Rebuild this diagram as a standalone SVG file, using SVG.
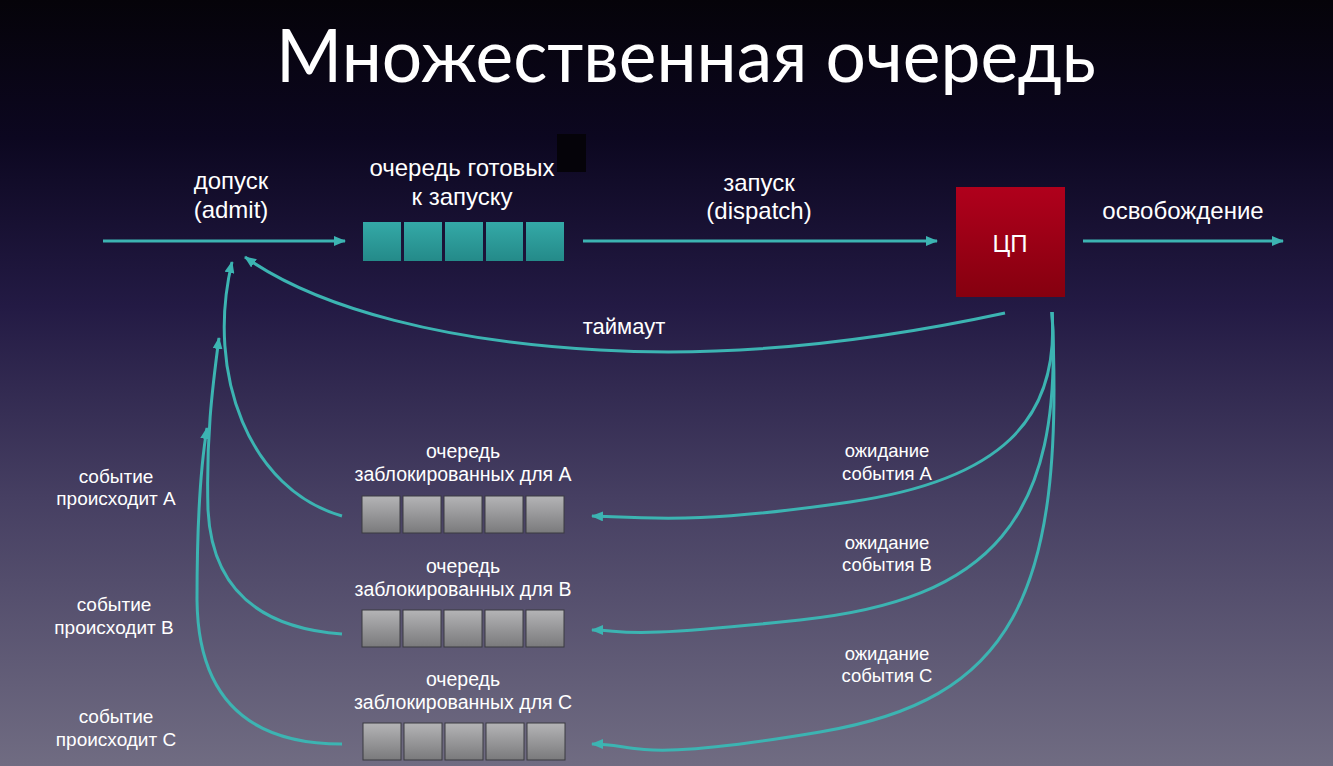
<svg xmlns="http://www.w3.org/2000/svg" width="1333" height="766" viewBox="0 0 1333 766">
<defs>
<linearGradient id="bg" x1="0" y1="0" x2="0" y2="1">
<stop offset="0" stop-color="#050309"/>
<stop offset="0.18" stop-color="#0c0720"/>
<stop offset="0.4" stop-color="#231a44"/>
<stop offset="0.65" stop-color="#463f62"/>
<stop offset="1" stop-color="#706c82"/>
</linearGradient>
<linearGradient id="teal" x1="0" y1="0" x2="0" y2="1">
<stop offset="0" stop-color="#34a9a7"/>
<stop offset="1" stop-color="#248a89"/>
</linearGradient>
<linearGradient id="gray" x1="0" y1="0" x2="0" y2="1">
<stop offset="0" stop-color="#b4b4b6"/>
<stop offset="1" stop-color="#7a7a7c"/>
</linearGradient>
<linearGradient id="red" x1="0" y1="0" x2="0" y2="1">
<stop offset="0" stop-color="#b0001c"/>
<stop offset="1" stop-color="#85000f"/>
</linearGradient>
<marker id="ah" viewBox="0 0 12 10" refX="11" refY="5" markerWidth="12" markerHeight="10" markerUnits="userSpaceOnUse" orient="auto">
<path d="M0,0 L12,5 L0,10 Z" fill="#3cb4b2"/>
</marker>
<style>
.t{font-family:"Liberation Sans",Arial,sans-serif;fill:#ffffff;text-anchor:middle}
.l{font-size:24px}
.s{font-size:19.5px}
.w{font-size:18.5px}
.e{font-size:19px}
.c{fill:none;stroke:#3cb4b2;stroke-width:3;marker-end:url(#ah)}
.q{fill:url(#teal)}
.g{fill:url(#gray);stroke:#3a3a40;stroke-width:1}
</style>
</defs>
<rect width="1333" height="766" fill="url(#bg)"/>
<rect x="557" y="134" width="29" height="38" fill="#050309"/>
<text class="t" x="686" y="82" style="font-family:Lato,'Noto Sans',sans-serif;font-size:74px" textLength="820" lengthAdjust="spacingAndGlyphs">Множественная очередь</text>

<g id="connectors">
<path class="c" d="M103 241 L345 241"/>
<path class="c" d="M583 241 L937 241"/>
<path class="c" d="M1083 241 L1283 241"/>
<path class="c" d="M1005 313 C880 340 740 358 600 350 C450 342 320 310 245 257"/>
<path class="c" d="M1052 312 C1060 420 1000 480 850 502 S650 518 592 516"/>
<path class="c" d="M1052 312 C1064 520 990 600 800 620 S630 630 592 630"/>
<path class="c" d="M1052 312 C1066 600 1010 700 820 732 S640 744 592 744"/>
<path class="c" d="M342 516 C250 490 205 375 232 262"/>
<path class="c" d="M342 634 C260 628 212 590 208 510 C206 440 212 390 219 338"/>
<path class="c" d="M342 744 C250 744 198 700 197 600 C197 520 200 470 207 428"/>
</g>

<g id="admit">
<text class="t l" x="231" y="189">допуск</text>
<text class="t l" x="231" y="218">(admit)</text>
</g>

<g id="ready-queue">
<text class="t l" x="462" y="176">очередь готовых</text>
<text class="t l" x="462" y="205">к запуску</text>
<rect class="q" x="363" y="222" width="38" height="39"/>
<rect class="q" x="404" y="222" width="38" height="39"/>
<rect class="q" x="445" y="222" width="38" height="39"/>
<rect class="q" x="486" y="222" width="37" height="39"/>
<rect class="q" x="526" y="222" width="38" height="39"/>
</g>

<g id="dispatch">
<text class="t l" x="759" y="191">запуск</text>
<text class="t l" x="759" y="219">(dispatch)</text>
</g>

<g id="cpu">
<rect x="956" y="187" width="109" height="110" fill="url(#red)"/>
<text class="t" x="1010" y="252" style="font-size:24px">ЦП</text>
</g>

<g id="release">
<text class="t l" x="1183" y="219">освобождение</text>
</g>

<g id="timeout">
<text class="t" x="624" y="334" style="font-size:22px">таймаут</text>
</g>

<g id="blocked-a">
<text class="t s" x="463" y="458">очередь</text>
<text class="t s" x="463" y="481">заблокированных для A</text>
<rect class="g" x="362" y="496" width="38" height="37"/>
<rect class="g" x="403" y="496" width="38" height="37"/>
<rect class="g" x="444" y="496" width="38" height="37"/>
<rect class="g" x="485" y="496" width="38" height="37"/>
<rect class="g" x="526" y="496" width="38" height="37"/>
</g>

<g id="blocked-b">
<text class="t s" x="463" y="573">очередь</text>
<text class="t s" x="463" y="596">заблокированных для B</text>
<rect class="g" x="362" y="610" width="38" height="37"/>
<rect class="g" x="403" y="610" width="38" height="37"/>
<rect class="g" x="444" y="610" width="38" height="37"/>
<rect class="g" x="485" y="610" width="38" height="37"/>
<rect class="g" x="526" y="610" width="38" height="37"/>
</g>

<g id="blocked-c">
<text class="t s" x="463" y="686">очередь</text>
<text class="t s" x="463" y="709">заблокированных для C</text>
<rect class="g" x="363" y="723" width="38" height="37"/>
<rect class="g" x="404" y="723" width="38" height="37"/>
<rect class="g" x="445" y="723" width="38" height="37"/>
<rect class="g" x="486" y="723" width="38" height="37"/>
<rect class="g" x="527" y="723" width="38" height="37"/>
</g>

<g id="wait-a">
<text class="t w" x="887" y="457">ожидание</text>
<text class="t w" x="887" y="480">события A</text>
</g>
<g id="wait-b">
<text class="t w" x="887" y="549">ожидание</text>
<text class="t w" x="887" y="571">события B</text>
</g>
<g id="wait-c">
<text class="t w" x="887" y="660">ожидание</text>
<text class="t w" x="887" y="682">события C</text>
</g>

<g id="event-a">
<text class="t e" x="116" y="483">событие</text>
<text class="t e" x="116" y="505">происходит A</text>
</g>
<g id="event-b">
<text class="t e" x="114" y="611">событие</text>
<text class="t e" x="114" y="634">происходит B</text>
</g>
<g id="event-c">
<text class="t e" x="116" y="723">событие</text>
<text class="t e" x="116" y="746">происходит C</text>
</g>
</svg>
